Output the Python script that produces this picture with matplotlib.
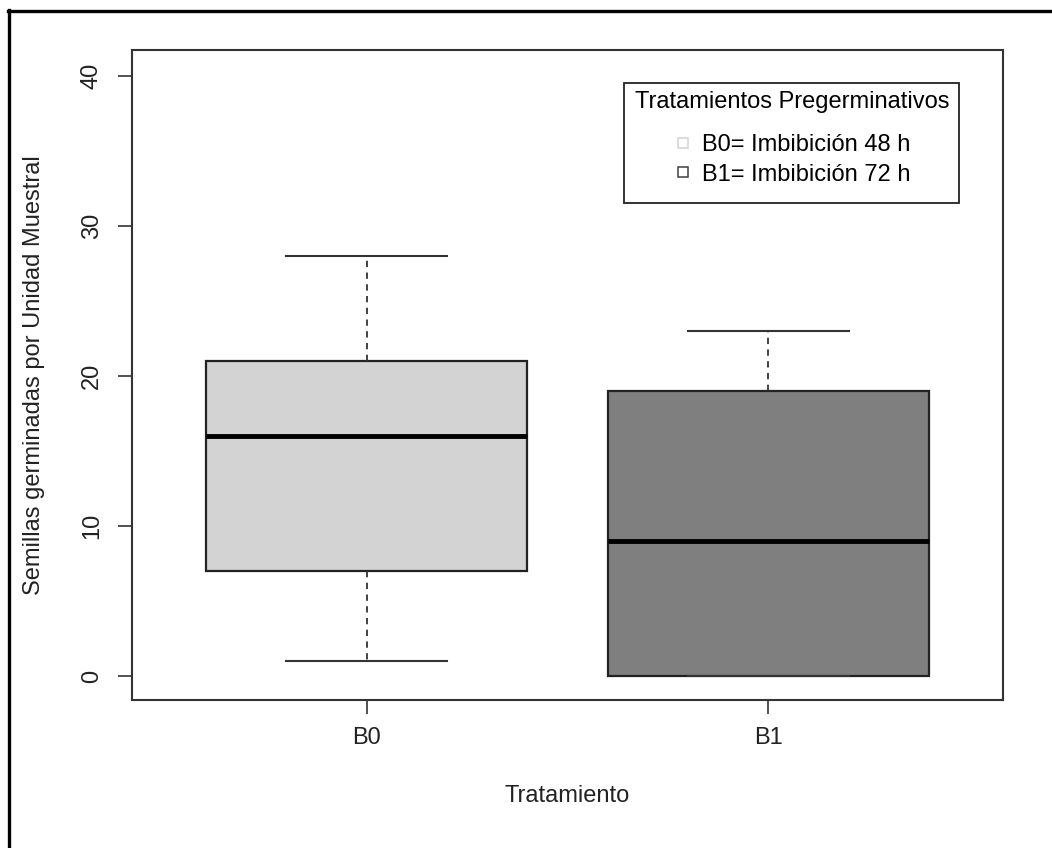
import matplotlib
matplotlib.use("Agg")
import matplotlib.pyplot as plt
from matplotlib.lines import Line2D
from matplotlib.patches import Rectangle

plt.rcParams['font.family'] = ['Liberation Sans', 'DejaVu Sans']

# Box statistics
groups = ['B0', 'B1']
whis_low = [1, 0]
q1 = [7, 0]
medians = [16, 9]
q3 = [21, 19]
whis_high = [28, 23]
fill_colors = ['#d3d3d3', '#7f7f7f']
legend_labels = ['B0= Imbibición 48 h', 'B1= Imbibición 72 h']
legend_marker_colors = ['#d3d3d3', '#404040']

fs = 17
W, H = 1052, 848

fig = plt.figure(figsize=(W / 100, H / 100), dpi=100)
ax = fig.add_axes([132 / W, 1 - 700 / H, 871 / W, 650 / H])

stats = []
for i, g in enumerate(groups):
    stats.append(dict(label=g, med=medians[i], q1=q1[i], q3=q3[i],
                      whislo=whis_low[i], whishi=whis_high[i], fliers=[]))

bp = ax.bxp(stats, positions=[1, 2], widths=0.8, patch_artist=True,
            showfliers=False,
            boxprops=dict(linewidth=1.6, edgecolor='#222222'),
            medianprops=dict(linewidth=3.5, color='black'),
            whiskerprops=dict(linewidth=1.3, linestyle=(0, (3.5, 3)), color='#333333'),
            capprops=dict(linewidth=1.5, color='#333333'),
            capwidths=0.4)
for patch, c in zip(bp['boxes'], fill_colors):
    patch.set_facecolor(c)

ax.set_xlim(0.416, 2.584)
ax.set_ylim(-1.6, 41.7)
ax.set_yticks([0, 10, 20, 30, 40])
ax.set_xticks([1, 2])
ax.set_xticklabels(groups)
for lbl in ax.get_yticklabels():
    lbl.set_rotation(90)
    lbl.set_va('center')
ax.tick_params(axis='both', length=10, width=1.2, color='#333333',
               labelsize=fs, labelcolor='#222222')
ax.tick_params(axis='x', pad=9.5)
ax.tick_params(axis='y', pad=11)
for s in ax.spines.values():
    s.set_linewidth(1.5)
    s.set_color('#333333')

ax.set_xlabel('Tratamiento', fontsize=fs, labelpad=26, color='#222222')
ax.set_ylabel('Semillas germinadas por Unidad Muestral', fontsize=fs,
              labelpad=26, color='#222222')

# legend (R style: title, hollow squares, plain frame)
handles = [Line2D([], [], linestyle='none', marker='s', markersize=6.5,
                  markerfacecolor='none', markeredgecolor=c, markeredgewidth=1.1)
           for c in legend_marker_colors]
leg = fig.legend(handles, legend_labels, title='Tratamientos Pregerminativos',
                 loc='upper left', bbox_to_anchor=(635 / W, 1 - 91 / H),
                 fontsize=fs, title_fontsize=fs, frameon=False,
                 borderpad=0, handletextpad=0.4, handlelength=0.8,
                 labelspacing=0.33, borderaxespad=0)
leg._legend_box.sep = 15
fig.add_artist(Rectangle((624 / W, 1 - 203 / H), 335 / W, 120 / H,
                         transform=fig.transFigure, facecolor='none',
                         edgecolor='#222222', linewidth=1.3))

# outer frame (left and top edges visible in the original)
fig.add_artist(Line2D([9.5 / W, 9.5 / W], [0, 1 - 10 / H],
                      transform=fig.transFigure, color='black', linewidth=2.4))
fig.add_artist(Line2D([8 / W, 1], [1 - 11 / H, 1 - 11 / H],
                      transform=fig.transFigure, color='black', linewidth=2.4))

fig.savefig('out.png', dpi=100)
